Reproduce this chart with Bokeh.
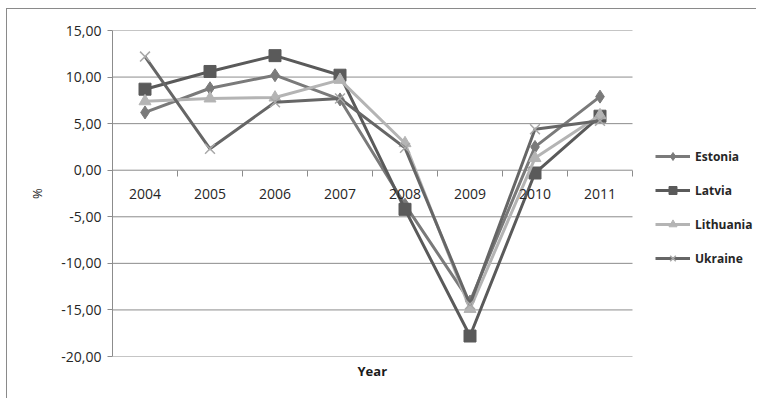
from bokeh.plotting import figure
from bokeh.models import Range1d, FixedTicker, Legend, LegendItem, Title
from bokeh.embed import file_html
from bokeh.resources import INLINE

years = ["2004", "2005", "2006", "2007", "2008", "2009", "2010", "2011"]
estonia = [6.2, 8.8, 10.2, 7.6, -3.7, -14.1, 2.5, 7.9]
latvia = [8.7, 10.6, 12.3, 10.2, -4.2, -17.8, -0.3, 5.8]
lithuania = [7.4, 7.7, 7.8, 9.7, 2.9, -14.9, 1.3, 5.9]
ukraine = [12.2, 2.3, 7.3, 7.7, 2.4, -14.4, 4.4, 5.3]

y_ticks = [-20, -15, -10, -5, 0, 5, 10, 15]
y_tick_labels = ["-20,00", "-15,00", "-10,00", "-5,00", "0,00", "5,00", "10,00", "15,00"]

FONT = "Open Sans"
GRID = "#8c8c8c"
TEXT = "#262626"

# layout constants (pixels)
W, H = 750, 390
LEFT, TOP, BOTTOM = 105, 21, 43
PLOT_W = 520                      # width of the category area
FRAME_W = W - LEFT                # frame extends to the right edge (legend lives inside)
n = len(years)
x_max = n * FRAME_W / PLOT_W

x = [i + 0.5 for i in range(n)]

p = figure(width=W, height=H, output_backend="svg", toolbar_location=None,
           x_range=Range1d(0, x_max), y_range=Range1d(y_ticks[0], y_ticks[-1]),
           min_border_left=LEFT, min_border_right=0, min_border_top=TOP,
           min_border_bottom=BOTTOM)
p.styles = {"border-top": "1px solid #8a8a8a", "border-left": "1px solid #8a8a8a",
            "margin-left": "6px", "margin-top": "8px"}
p.outline_line_color = None
p.background_fill_color = "white"
p.border_fill_color = "white"
p.grid.visible = False

# horizontal gridlines over the category area only
p.segment(x0=[0] * len(y_ticks), y0=y_ticks, x1=[n] * len(y_ticks), y1=y_ticks,
          line_color=GRID, line_width=1)

# y axis
p.yaxis.ticker = FixedTicker(ticks=y_ticks)
p.yaxis.major_label_overrides = {t: l for t, l in zip(y_ticks, y_tick_labels)}
p.yaxis.axis_label = "%"
p.yaxis.axis_label_text_font = FONT
p.yaxis.axis_label_text_font_size = "13px"
p.yaxis.axis_label_text_font_style = "normal"
p.yaxis.axis_label_text_color = TEXT
p.yaxis.axis_label_standoff = 12
p.yaxis.major_label_text_font = FONT
p.yaxis.major_label_text_font_size = "14px"
p.yaxis.major_label_text_color = TEXT
p.yaxis.axis_line_color = GRID
p.yaxis.major_tick_line_color = GRID
p.yaxis.major_tick_out = 5
p.yaxis.major_tick_in = 0
p.yaxis.minor_tick_line_color = None
p.yaxis.major_label_standoff = 6

# x axis crossing at 0 (its line is the 0 gridline)
p.xaxis.ticker = FixedTicker(ticks=x, minor_ticks=list(range(n + 1)))
p.xaxis.major_label_overrides = {xv: yr for xv, yr in zip(x, years)}
p.xaxis.fixed_location = 0
p.xaxis.axis_line_color = None
p.xaxis.major_tick_line_color = None
p.xaxis.major_tick_out = 0
p.xaxis.major_tick_in = 0
p.xaxis.minor_tick_line_color = GRID
p.xaxis.minor_tick_out = 6
p.xaxis.minor_tick_in = 0
p.xaxis.major_label_standoff = 13
p.xaxis.major_label_text_font = FONT
p.xaxis.major_label_text_font_size = "14px"
p.xaxis.major_label_text_color = TEXT

p.add_layout(Title(text="Year", align="left", offset=PLOT_W / 2 - 15, text_font=FONT,
                   text_font_size="13px", text_font_style="bold",
                   text_color="#1a1a1a", standoff=6), "below")

series = [
    ("Estonia", estonia, "#7a7a7a", "diamond", 13, "#7a7a7a"),
    ("Latvia", latvia, "#5a5a5a", "square", 12, "#5a5a5a"),
    ("Lithuania", lithuania, "#b4b4b4", "triangle", 12, "#b4b4b4"),
    ("Ukraine", ukraine, "#666666", "x", 14, "#a8a8a8"),
]

items = []
for name, vals, col, marker, size, mcol in series:
    ln = p.line(x, vals, line_color=col, line_width=3, line_join="round")
    if marker == "x":
        sc = p.scatter(x, vals, marker=marker, size=size, line_color=mcol, line_width=1.5)
    else:
        sc = p.scatter(x, vals, marker=marker, size=size, fill_color=mcol, line_color=mcol)
    items.append(LegendItem(label=name, renderers=[ln, sc]))

legend = Legend(items=items, location=(PLOT_W + 23, 88), orientation="vertical")
legend.background_fill_alpha = 0
legend.border_line_color = None
legend.padding = 0
legend.margin = 0
legend.spacing = 14
legend.glyph_width = 35
legend.glyph_height = 20
legend.label_height = 20
legend.label_standoff = 5
legend.label_text_font = FONT
legend.label_text_font_size = "12px"
legend.label_text_font_style = "bold"
legend.label_text_color = TEXT
p.add_layout(legend, "center")

open("out.html", "w").write(file_html(p, INLINE))
